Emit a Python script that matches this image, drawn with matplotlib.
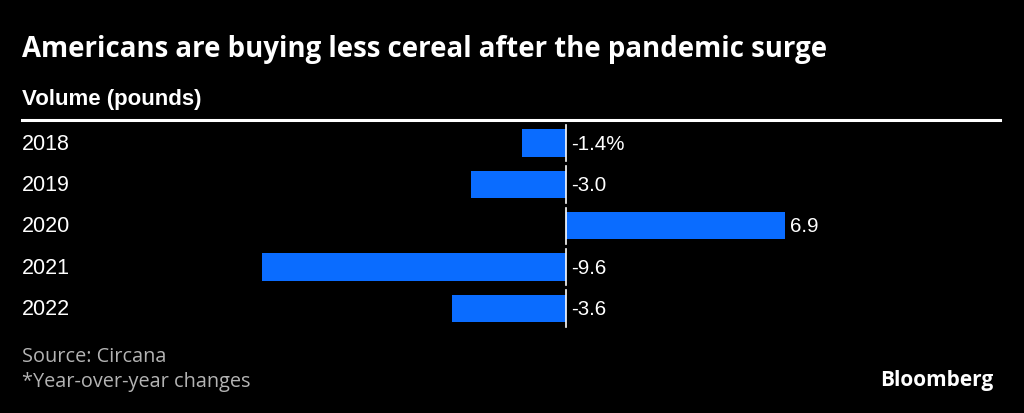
import matplotlib.pyplot as plt
import matplotlib.transforms as mtransforms

years = ["2018", "2019", "2020", "2021", "2022"]
changes = [-1.4, -3.0, 6.9, -9.6, -3.6]
value_labels = ["-1.4%", "-3.0", "6.9", "-9.6", "-3.6"]

W, H = 1024, 414
fig = plt.figure(figsize=(W / 100, H / 100), dpi=100, facecolor="black")

# axes box in pixel terms: x 22..1000, y 123..330 (from top)
ax = fig.add_axes([22 / W, 1 - 330 / H, 978 / W, 207 / H])
ax.set_facecolor("black")
ax.set_xlim(-17.16, 13.69)
ax.set_ylim(4.5, -0.51)
for s in ax.spines.values():
    s.set_visible(False)
ax.set_xticks([])
ax.set_yticks([])

pos = list(range(len(years)))
ax.barh(pos, changes, height=0.66, color="#0a6cff", zorder=2)
for i in pos:
    ax.plot([0, 0], [i - 0.44, i + 0.44], color="white", lw=1.2, zorder=3)

trans = mtransforms.blended_transform_factory(ax.transAxes, ax.transData)
for i, (y, v, lab) in enumerate(zip(years, changes, value_labels)):
    ax.text(0, i, y, transform=trans, color="white", fontsize=15.5,
            family="Liberation Sans", va="center", ha="left")
    xo = max(v, 0)
    ax.annotate(lab, (xo, i), xytext=(4, 0), textcoords="offset points",
                color="white", fontsize=14.8, family="Liberation Sans",
                va="center", ha="left")

fig.text(22 / W, 1 - 50 / H, "Americans are buying less cereal after the pandemic surge",
         color="white", fontsize=19.9, fontweight="bold", family="Open Sans",
         va="center", ha="left")
fig.text(22 / W, 1 - 100 / H, "Volume (pounds)", color="white", fontsize=16,
         fontweight="bold", family="Liberation Sans", va="center", ha="left")
fig.add_artist(plt.Line2D([22 / W, 1000 / W], [1 - 121 / H, 1 - 121 / H],
                          color="white", lw=2.2))

fig.text(22 / W, 1 - 357 / H, "Source: Circana", color="#b4b4b4", fontsize=14.3,
         family="Open Sans", va="center", ha="left")
fig.text(22 / W, 1 - 382 / H, "*Year-over-year changes", color="#b4b4b4", fontsize=14.3,
         family="Open Sans", va="center", ha="left")
fig.text(993 / W, 1 - 381 / H, "Bloomberg", color="white", fontsize=15,
         fontweight="bold", family="Open Sans", va="center", ha="right")

fig.savefig("out.png", dpi=100, facecolor="black")
